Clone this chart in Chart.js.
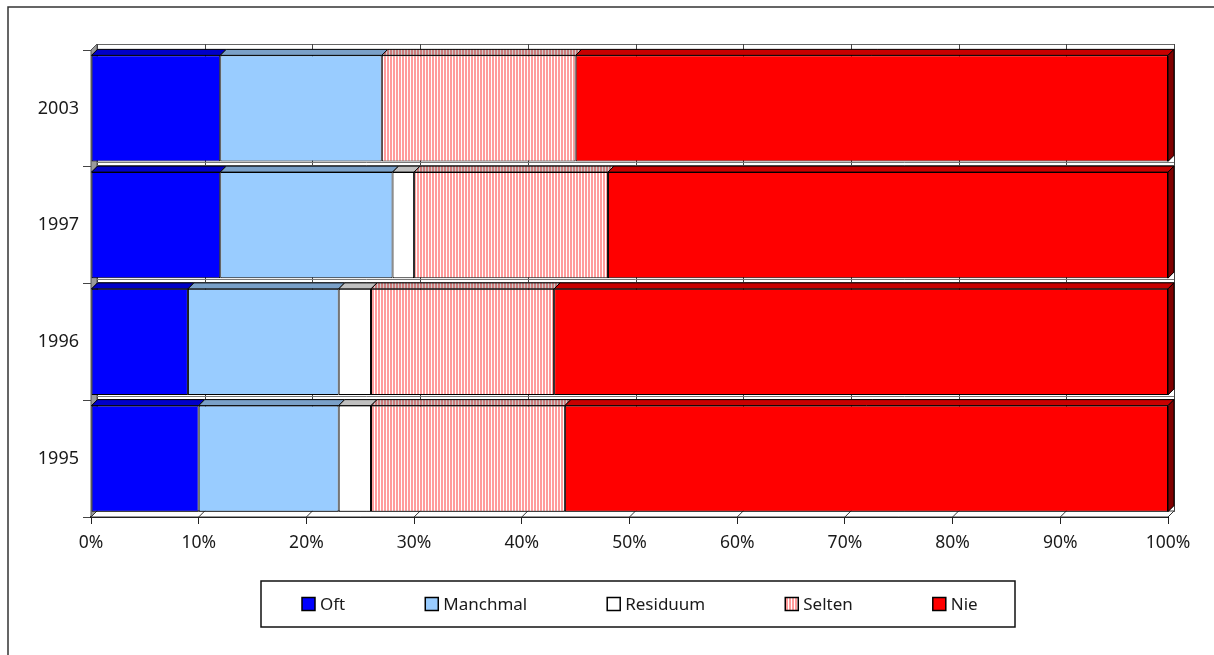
<!DOCTYPE html>
<html>
<head>
<meta charset="utf-8">
<script src="https://cdn.jsdelivr.net/npm/chart.js@4.4.0/dist/chart.umd.min.js"></script>
<style>
  html, body { margin: 0; padding: 0; background: #fff; }
  canvas { display: block; }
</style>
</head>
<body>
<canvas id="surveyChart" width="1214" height="655"></canvas>
<script>
const years = ["2003", "1997", "1996", "1995"];
const oft = [12, 12, 9, 10];
const manchmal = [15, 16, 14, 13];
const residuum = [0, 2, 3, 3];
const selten = [18, 18, 17, 18];
const nie = [55, 52, 57, 56];
const seriesNames = ["Oft", "Manchmal", "Residuum", "Selten", "Nie"];
const xTickLabels = ["0%", "10%", "20%", "30%", "40%", "50%", "60%", "70%", "80%", "90%", "100%"];

const DEPTH = 6; // 3d offset of the bars, px
const FONT = "'Noto Sans', sans-serif";

const canvas = document.getElementById("surveyChart");
const ctx0 = canvas.getContext("2d");

// vertical stripes, used for "Selten"
function stripes(fg, bg) {
    const c = document.createElement("canvas");
    c.width = 3;
    c.height = 1;
    const g = c.getContext("2d");
    g.fillStyle = bg;
    g.fillRect(0, 0, 3, 1);
    g.fillStyle = fg;
    g.fillRect(0, 0, 2, 1);
    return ctx0.createPattern(c, "repeat");
}

const frontColors = ["#0000FF", "#99CCFF", "#FFFFFF", stripes("#FF9C9C", "#FFFFFF"), "#FF0000"];
const topColors = ["#0000C8", "#7AA0C8", "#C0C0C0", stripes("#CC7A7A", "#CCCCCC"), "#C80000"];
const sideColor = "#800000";

function quad(ctx, pts, fill, stroke) {
    ctx.beginPath();
    ctx.moveTo(pts[0][0], pts[0][1]);
    for (let i = 1; i < pts.length; i++) ctx.lineTo(pts[i][0], pts[i][1]);
    ctx.closePath();
    if (fill) { ctx.fillStyle = fill; ctx.fill(); }
    if (stroke) { ctx.strokeStyle = stroke; ctx.stroke(); }
}

const walls = {
    id: "walls",
    beforeDraw(chart) {
        // outer frame (only top and left edge are inside the picture)
        const ctx = chart.ctx;
        ctx.save();
        ctx.strokeStyle = "#333";
        ctx.lineWidth = 1.5;
        ctx.beginPath();
        ctx.moveTo(8, chart.height);
        ctx.lineTo(8, 7);
        ctx.lineTo(chart.width, 7);
        ctx.stroke();
        ctx.restore();
    },
    beforeDatasetsDraw(chart) {
        const ctx = chart.ctx;
        const a = chart.chartArea;
        const x = chart.scales.x;
        const d = DEPTH;
        ctx.save();
        ctx.lineWidth = 1;

        // side wall at 0%
        quad(ctx, [[a.left, a.top], [a.left + d, a.top - d], [a.left + d, a.bottom - d], [a.left, a.bottom]], "#9A9A9A", "#555");

        // back wall
        ctx.fillStyle = "#fff";
        ctx.fillRect(a.left + d, a.top - d, a.right - a.left, a.bottom - a.top);
        ctx.strokeStyle = "#666";
        ctx.strokeRect(a.left + d + 0.5, a.top - d + 0.5, a.right - a.left, a.bottom - a.top);

        // grid lines on the back wall
        ctx.strokeStyle = "#444";
        x.ticks.forEach(t => {
            const px = Math.round(x.getPixelForValue(t.value) + d) + 0.5;
            ctx.beginPath();
            ctx.moveTo(px, a.top - d);
            ctx.lineTo(px, a.bottom - d);
            ctx.stroke();
        });

        // strips between the rows
        const band = (a.bottom - a.top) / years.length;
        ctx.strokeStyle = "#777";
        for (let i = 1; i < years.length; i++) {
            const b = a.top + band * i;
            [b - 4.5, b - 1.5].forEach(yy => {
                ctx.beginPath();
                ctx.moveTo(a.left + d, Math.round(yy) + 0.5);
                ctx.lineTo(a.right + d, Math.round(yy) + 0.5);
                ctx.stroke();
            });
        }

        // floor
        quad(ctx, [[a.left, a.bottom], [a.left + d, a.bottom - d], [a.right + d, a.bottom - d], [a.right, a.bottom]], "#fff", "#333");
        ctx.strokeStyle = "#333";
        x.ticks.forEach(t => {
            const px = x.getPixelForValue(t.value);
            ctx.beginPath();
            ctx.moveTo(px, a.bottom);
            ctx.lineTo(px + d, a.bottom - d);
            ctx.stroke();
        });
        ctx.restore();
    },
    afterDatasetsDraw(chart) {
        const ctx = chart.ctx;
        const d = DEPTH;
        const last = chart.data.datasets.length - 1;
        ctx.save();
        ctx.lineWidth = 1;
        chart.data.datasets.forEach((ds, di) => {
            chart.getDatasetMeta(di).data.forEach(bar => {
                const p = bar.getProps(["x", "y", "base", "height"], true);
                const left = Math.min(p.base, p.x);
                const right = Math.max(p.base, p.x);
                if (right - left < 0.5) return;
                const top = p.y - p.height / 2;
                const bottom = p.y + p.height / 2;
                quad(ctx, [[left, top], [left + d, top - d], [right + d, top - d], [right, top]], topColors[di], "#000");
                if (di === last) {
                    quad(ctx, [[right, top], [right + d, top - d], [right + d, bottom - d], [right, bottom]], sideColor, "#000");
                }
            });
        });
        ctx.restore();
    }
};

const boxLegend = {
    id: "boxLegend",
    afterDraw(chart) {
        const ctx = chart.ctx;
        const box = 13, textGap = 18, itemGap = 80, pad = 40;
        const cx = 640, cy = 604;
        ctx.save();
        ctx.font = "17px " + FONT;
        ctx.textBaseline = "middle";
        ctx.textAlign = "left";
        const items = chart.data.datasets.map(ds => ({ label: ds.label, color: ds.backgroundColor, w: ctx.measureText(ds.label).width }));
        const total = items.reduce((s, it) => s + textGap + it.w, 0) + itemGap * (items.length - 1);
        let xx = Math.round(cx - total / 2);

        ctx.strokeStyle = "#111";
        ctx.lineWidth = 1.5;
        ctx.strokeRect(Math.round(xx - pad - 1), 581, Math.round(total + 2 * pad - 2), 46);

        items.forEach(it => {
            ctx.fillStyle = it.color;
            ctx.fillRect(xx, cy - box / 2, box, box);
            ctx.lineWidth = 1.5;
            ctx.strokeStyle = "#000";
            ctx.strokeRect(xx, cy - box / 2, box, box);
            ctx.fillStyle = "#1a1a1a";
            ctx.fillText(it.label, xx + textGap, cy + 1);
            xx += textGap + it.w + itemGap;
        });
        ctx.restore();
    }
};

const seriesValues = [oft, manchmal, residuum, selten, nie];

new Chart(canvas, {
    type: "bar",
    data: {
        labels: years,
        datasets: seriesNames.map((name, i) => ({
            label: name,
            data: seriesValues[i],
            backgroundColor: frontColors[i],
            borderColor: "#000",
            borderWidth: 1,
            borderSkipped: false,
            barPercentage: 0.908,
            categoryPercentage: 1
        }))
    },
    options: {
        indexAxis: "y",
        responsive: false,
        animation: false,
        layout: { padding: { top: 50, right: 46, left: 0, bottom: 0 } },
        scales: {
            x: {
                stacked: true,
                min: 0,
                max: 100,
                afterFit: s => { s.height = 138; },
                ticks: {
                    stepSize: 10,
                    padding: 9,
                    color: "#1a1a1a",
                    font: { family: FONT, size: 17.5 },
                    callback: (v, i) => xTickLabels[i]
                },
                grid: { drawOnChartArea: false, drawTicks: true, tickLength: 7, color: "#222" },
                border: { color: "#111", width: 2 }
            },
            y: {
                stacked: true,
                afterFit: s => { s.width = 91; },
                ticks: {
                    padding: 4,
                    color: "#1a1a1a",
                    font: { family: FONT, size: 18 }
                },
                grid: { offset: true, drawOnChartArea: false, drawTicks: true, tickLength: 8, color: "#444" },
                border: { color: "#222", width: 1 }
            }
        },
        plugins: {
            legend: { display: false },
            tooltip: { enabled: false }
        }
    },
    plugins: [walls, boxLegend]
});
</script>
</body>
</html>
